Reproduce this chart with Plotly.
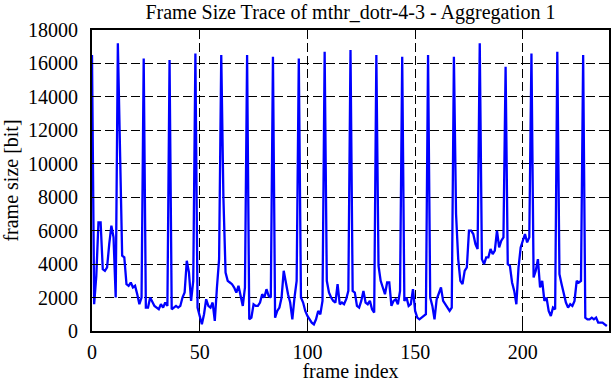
import plotly.graph_objects as go

frame_size = [
    16500, 1600, 3300, 6500, 6500, 3700, 3600, 3800, 5200, 6300,
    5600, 2000, 17200, 9900, 4500, 4400, 2800, 2700, 2900, 2600,
    2700, 2200, 1600, 2000, 16300, 1400, 1400, 2000, 1700, 1500,
    1400, 1300, 1600, 1400, 1700, 1500, 16200, 1300, 1400, 1500,
    1400, 1500, 2000, 2300, 4200, 3500, 1800, 3000, 16600, 1400,
    900, 400, 1000, 1900, 1500, 1400, 1700, 600, 2600, 4300,
    16500, 8000, 3500, 3000, 2900, 2800, 2600, 2300, 2700, 2000,
    1500, 2600, 16500, 700, 800, 1600, 1500, 1500, 1700, 2200,
    2000, 2500, 2100, 2000, 16400, 800, 1200, 1400, 2000, 3600,
    2800, 2200, 1700, 700, 2000, 3000, 16300, 2000, 1700, 1200,
    900, 700, 500, 400, 700, 1200, 1000, 1800, 16700, 3000,
    2300, 2000, 1800, 1700, 2800, 1600, 1700, 1600, 1900, 2400,
    16800, 2400, 2300, 1500, 1400, 1800, 2400, 1700, 1600, 1800,
    1300, 1100, 16500, 3900, 3000, 2600, 2200, 2900, 2900, 1500,
    1800, 1900, 1600, 2400, 16400, 1800, 2000, 1500, 1600, 2500,
    1200, 800, 700, 800, 900, 1000, 16500, 2000, 1500, 700,
    1900, 2300, 2600, 1800, 1600, 1400, 1200, 1400, 16400, 7000,
    4300, 3000, 2800, 3600, 3800, 6000, 6000, 5800, 5200, 4900,
    17200, 4300, 4000, 4400, 4400, 4900, 4600, 4800, 6000, 5000,
    5400, 5600, 15800, 4000, 3900, 2900, 2400, 1600, 3800, 5000,
    5400, 5800, 5300, 5600, 16600, 3200, 3600, 4300, 2600, 3000,
    1800, 2000, 1200, 900, 1400, 1300, 16700, 3400, 2800, 2200,
    1700, 1400, 1600, 1500, 1800, 3000, 2900, 3000, 16500, 800,
    700, 700, 800, 700, 800, 500, 500, 500, 400, 300,
]
frame_index = list(range(len(frame_size)))

x_ticks = [0, 50, 100, 150, 200]
x_tick_labels = ["0", "50", "100", "150", "200"]
y_ticks = list(range(0, 18001, 2000))
y_tick_labels = [str(v) for v in y_ticks]

font_family = "Liberation Serif, Times New Roman, serif"

fig = go.Figure()
fig.add_trace(go.Scatter(
    x=frame_index, y=frame_size, mode="lines",
    line=dict(color="#0000ff", width=2.3),
    showlegend=False, hoverinfo="skip",
))

axis_common = dict(
    showline=True, linecolor="black", linewidth=2, mirror="ticks",
    ticks="inside", ticklen=7, tickwidth=1, tickcolor="black",
    showgrid=True, gridcolor="black", gridwidth=1, griddash="9px,4px",
    zeroline=False, automargin=False,
    tickfont=dict(family=font_family, size=20, color="black"),
)

fig.update_layout(
    width=612, height=382,
    margin=dict(l=92, r=3, t=30, b=51),
    paper_bgcolor="white", plot_bgcolor="white",
    title=dict(
        text="Frame Size Trace of mthr_dotr-4-3 - Aggregation 1",
        font=dict(family=font_family, size=20, color="black"),
        x=0.5, xref="paper", xanchor="center", y=1 - 12 / 382, yanchor="middle",
        yref="container",
    ),
    xaxis=dict(
        range=[0, 240], tickvals=x_ticks, ticktext=x_tick_labels,
        ticklabelstandoff=2,
        title=dict(text="frame index", font=dict(family=font_family, size=20, color="black"), standoff=3),
        **axis_common,
    ),
    yaxis=dict(
        range=[0, 18000], tickvals=y_ticks, ticktext=y_tick_labels,
        ticklabelstandoff=8,
        title=dict(text="frame size [bit]", font=dict(family=font_family, size=20, color="black"), standoff=8),
        **axis_common,
    ),
)

fig.write_html(
    "out.html",
    config={"displayModeBar": False},
    post_script="document.body.style.margin='0';document.body.style.overflow='hidden';",
)
